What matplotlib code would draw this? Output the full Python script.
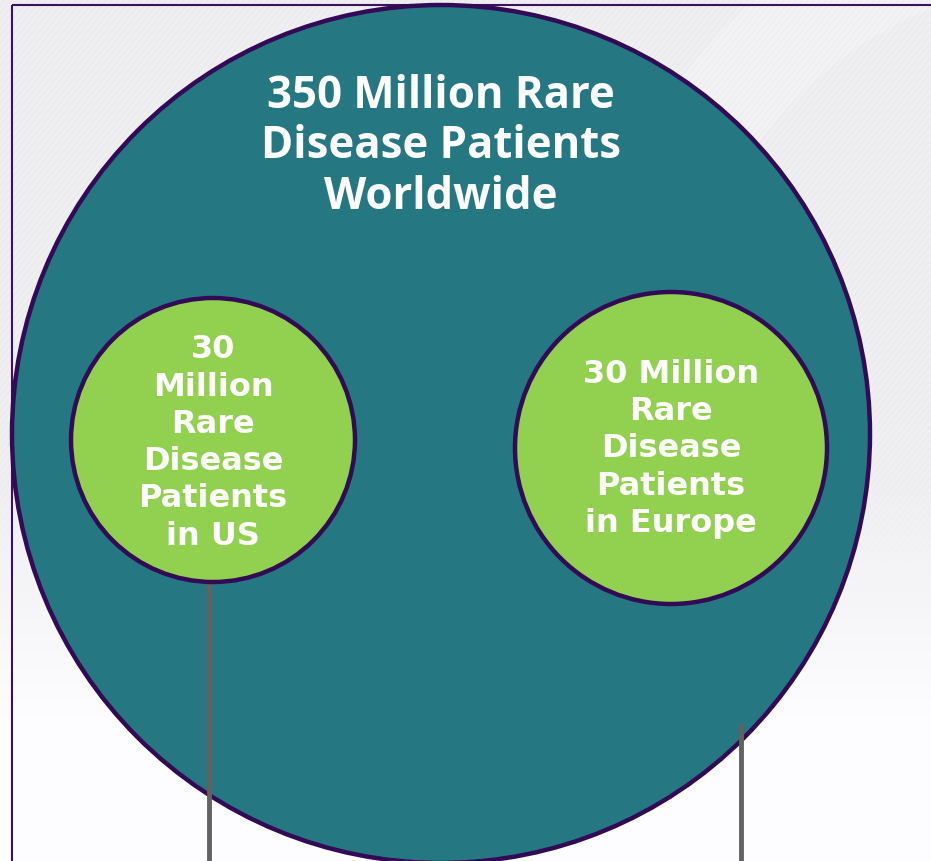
import numpy as np
import matplotlib.pyplot as plt
from matplotlib.patches import Circle, Rectangle

# patient counts (millions) and their labels
regions = ['Worldwide', 'US', 'Europe']
patients = [350, 30, 30]
labels = ['350 Million Rare\nDisease Patients\nWorldwide',
          '30\nMillion\nRare\nDisease\nPatients\nin US',
          '30 Million\nRare\nDisease\nPatients\nin Europe']

W, H = 931, 862
teal = '#257782'
green = '#92d050'
purple = '#330a55'

fig = plt.figure(figsize=(W / 100, H / 100), dpi=100)
ax = fig.add_axes([0, 0, 1, 1])
ax.set_xlim(0, W)
ax.set_ylim(H, 0)
ax.axis('off')

# striped light grey backdrop fading to white at the bottom
yy, xx = np.mgrid[0:H, 0:W]
base = 0.935 + 0.06 * np.clip((yy - 480) / 250, 0, 1)
ring = np.hypot(xx - 1080, yy - 380)
base = base + 0.012 * ((ring > 400) & (ring < 500)) * (yy < 620)
stripes = 0.01 * np.sin((xx + yy * 0.8) * 2 * np.pi / 6) * np.clip((620 - yy) / 200, 0, 1)
bg = np.clip(base + stripes, 0, 1)
rgb = np.dstack([bg, bg, np.clip(bg + 0.008, 0, 1)])
ax.imshow(rgb, extent=[0, W, H, 0], zorder=0)

ax.add_patch(Rectangle((12, 6), W, H, fill=False, ec='#3d1060', lw=1.5, zorder=1))

# big circle and the two regional circles
ax.add_patch(Circle((441, 435), 429, fc=teal, ec=purple, lw=3.2, zorder=2))
ax.add_patch(Circle((213, 441), 142, fc=green, ec=purple, lw=3.2, zorder=3))
ax.add_patch(Circle((671, 449), 156, fc=green, ec=purple, lw=3.2, zorder=3))

# connector lines
ax.plot([209, 209], [584, H], color='#626262', lw=3.5, zorder=2.5, solid_capstyle='butt')
ax.plot([741, 741], [725, H], color='#626262', lw=3.5, zorder=2.5, solid_capstyle='butt')

ax.text(441, 147, labels[0], ha='center', va='center', color='white',
        fontsize=31.5, fontweight='bold', family='Open Sans', linespacing=1.17, zorder=4)
ax.text(213, 443, labels[1], ha='center', va='center', color='white',
        fontsize=23, fontweight='bold', family='DejaVu Sans', linespacing=1.26, zorder=4)
ax.text(671, 449, labels[2], ha='center', va='center', color='white',
        fontsize=23, fontweight='bold', family='DejaVu Sans', linespacing=1.26, zorder=4)

fig.savefig('out.png', dpi=100)
